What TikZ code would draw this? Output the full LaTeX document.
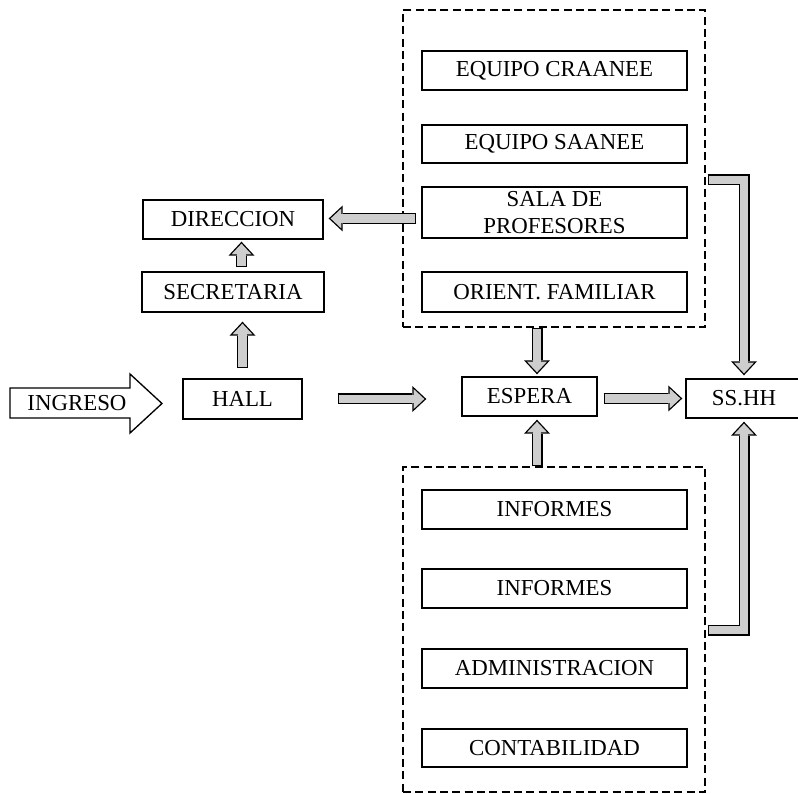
\documentclass[tikz,border=0pt]{standalone}
\usepackage{fontspec}
\setmainfont{Liberation Serif}
\usetikzlibrary{arrows.meta,calc}

\definecolor{arrowgray}{RGB}{206,206,206}

\begin{document}
\begin{tikzpicture}[
  x=0.03cm,
  y=-0.03cm,
  font=\fontsize{19.5}{23}\selectfont,
  line/.style={draw=black,line width=0.04cm},
  box/.style={line,inner sep=0pt,align=center,minimum height=1.17cm},
  colbox/.style={box,minimum width=7.95cm},
  group/.style={draw=black,line width=0.04cm,dash pattern=on 0.24cm off 0.13cm,minimum width=9.06cm},
  flow/.style={draw=black,line width=0.33cm,
    -{Triangle[length=0.42cm,width=0.78cm,line width=0pt]},
    postaction={draw=arrowgray,line width=0.25cm,shorten <=0.04cm,shorten >=0.06cm,
      -{Triangle[length=0.32cm,width=0.6cm,line width=0pt]}}}
]
\useasboundingbox (0,0) rectangle (798,794);

% Dashed groups
\node[group,minimum height=9.51cm] (topgrp) at (554,168.5) {};
\node[group,minimum height=9.75cm] (botgrp) at (554,629.5) {};

% Upper group
\node[colbox] (craanee) at (554.5,70.5) {EQUIPO CRAANEE};
\node[colbox,minimum height=1.14cm] (saanee) at (554.5,144) {EQUIPO SAANEE};
\node[colbox,minimum height=1.53cm] (sala) at (554.5,212.5) {SALA DE\\PROFESORES};
\node[colbox,minimum height=1.2cm] (orient) at (554.5,292) {ORIENT. FAMILIAR};

% Lower group
\node[colbox] (informesa) at (554.5,509.5) {INFORMES};
\node[colbox] (informesb) at (554.5,588.5) {INFORMES};
\node[colbox] (admin) at (554.5,668.5) {ADMINISTRACION};
\node[colbox,minimum height=1.14cm] (contab) at (554.5,748) {CONTABILIDAD};

% Left column
\node[box,minimum width=5.4cm] (direccion) at (233,219.5) {DIRECCION};
\node[box,minimum width=5.46cm,minimum height=1.2cm] (secretaria) at (233,292) {SECRETARIA};
\node[box,minimum width=3.57cm,minimum height=1.2cm] (hall) at (242.5,399) {HALL};
\node[box,minimum width=4.05cm] (espera) at (529.5,396.5) {ESPERA};
\node[box,minimum width=3.48cm] (sshh) at (744,398.5) {SS.HH};

% Entrance arrow
\draw[line,fill=white] (10,388) -- (130,388) -- (130,374) -- (162,403.5)
  -- (130,433) -- (130,418) -- (10,418) -- cycle;
\node (ingreso) at (77,403) {INGRESO};

% Flows
\draw[flow] ($(hall.north)+(0,-10)$) -- ($(secretaria.south -| hall.north)+(0,9)$);
\draw[flow] ($(secretaria.north -| hall.north)+(-1,-4)$) -- ($(direccion.south -| hall.north)+(-1,2)$);
\draw[flow] ($(sala.west |- direccion.east)+(-5,-1)$) -- ($(direccion.east)+(5,-1)$);
\draw[flow] ($(hall.east)+(35,0)$) -- ($(hall.east -| espera.west)+(-35,0)$);
\draw[flow] ($(topgrp.south -| espera.north)+(7.5,0)$) -- ($(espera.north)+(7.5,-2)$);
\draw[flow] ($(botgrp.north -| espera.south)+(7.5,0)$) -- ($(espera.south)+(7.5,3)$);
\draw[flow] ($(espera.east)+(6,2)$) -- ($(espera.east -| sshh.west)+(-3,2)$);
\draw[flow] ($(topgrp.north east)+(2,170.5)$) -| ($(sshh.north)+(0,-3)$);
\draw[flow] ($(botgrp.north east)+(2,164)$) -| ($(sshh.south)+(0,3)$);

\end{tikzpicture}
\end{document}
